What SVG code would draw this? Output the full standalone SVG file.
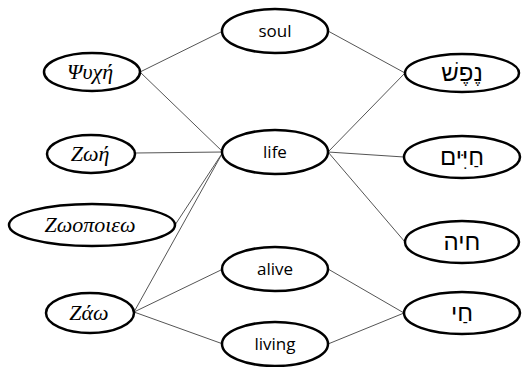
<svg xmlns="http://www.w3.org/2000/svg" width="523" height="367" viewBox="0 0 523 367">
  <style>
    .node ellipse { fill: #fff; stroke: #000; stroke-width: 2.5; }
    .gr { font-family: "Liberation Serif", "DejaVu Serif", serif; font-style: italic; font-size: 22px; fill: #000; text-anchor: middle; }
    .en { font-family: "Open Sans", "Liberation Sans", sans-serif; font-size: 17px; fill: #000; text-anchor: middle; }
    .he { font-family: "Liberation Sans", "DejaVu Sans", sans-serif; font-size: 24px; fill: #000; text-anchor: middle; }
    .links line { stroke: #555; stroke-width: 1; }
  </style>
  <rect width="523" height="367" fill="#fff"/>

  <g class="links">
    <line x1="140" y1="72" x2="223" y2="31"/>
    <line x1="140" y1="72" x2="223" y2="152"/>
    <line x1="135" y1="153" x2="223" y2="152"/>
    <line x1="175" y1="225" x2="223" y2="152"/>
    <line x1="134" y1="312" x2="223" y2="152"/>
    <line x1="134" y1="312" x2="223" y2="269"/>
    <line x1="134" y1="312" x2="223" y2="344"/>
    <line x1="328" y1="31" x2="405" y2="73"/>
    <line x1="328" y1="152" x2="405" y2="73"/>
    <line x1="328" y1="152" x2="404" y2="157"/>
    <line x1="328" y1="152" x2="405" y2="242"/>
    <line x1="328" y1="269" x2="404" y2="313"/>
    <line x1="328" y1="344" x2="404" y2="313"/>
  </g>

  <g id="psyche" class="node">
    <ellipse cx="92" cy="72" rx="48" ry="19"/>
    <text class="gr" x="90" y="79">Ψυχή</text>
  </g>
  <g id="zoe" class="node">
    <ellipse cx="91" cy="154" rx="44" ry="19"/>
    <text class="gr" x="90" y="161">Ζωή</text>
  </g>
  <g id="zoopoieo" class="node">
    <ellipse cx="92" cy="225" rx="83" ry="21"/>
    <text class="gr" x="90" y="232">Ζωοποιεω</text>
  </g>
  <g id="zao" class="node">
    <ellipse cx="90" cy="313" rx="44" ry="20"/>
    <text class="gr" x="89" y="320">Ζάω</text>
  </g>

  <g id="soul" class="node">
    <ellipse cx="275" cy="31" rx="53" ry="22"/>
    <text class="en" x="275" y="37">soul</text>
  </g>
  <g id="life" class="node">
    <ellipse cx="275" cy="152" rx="53" ry="22"/>
    <text class="en" x="275" y="158">life</text>
  </g>
  <g id="alive" class="node">
    <ellipse cx="275" cy="269" rx="53" ry="22"/>
    <text class="en" x="275" y="275">alive</text>
  </g>
  <g id="living" class="node">
    <ellipse cx="275" cy="344" rx="53" ry="22"/>
    <text class="en" x="275" y="350">living</text>
  </g>

  <g id="nefesh" class="node">
    <ellipse cx="462" cy="73" rx="57" ry="19"/>
    <text class="he" x="462" y="81">נֶפֶשׁ</text>
  </g>
  <g id="chayim" class="node">
    <ellipse cx="462" cy="157" rx="58" ry="21"/>
    <text class="he" x="462" y="165">חַיִּים</text>
  </g>
  <g id="chayah" class="node">
    <ellipse cx="462" cy="242" rx="57" ry="21"/>
    <text class="he" x="462" y="250">חיה</text>
  </g>
  <g id="chai" class="node">
    <ellipse cx="462" cy="313" rx="58" ry="21"/>
    <text class="he" x="462" y="321">חַי</text>
  </g>
</svg>
